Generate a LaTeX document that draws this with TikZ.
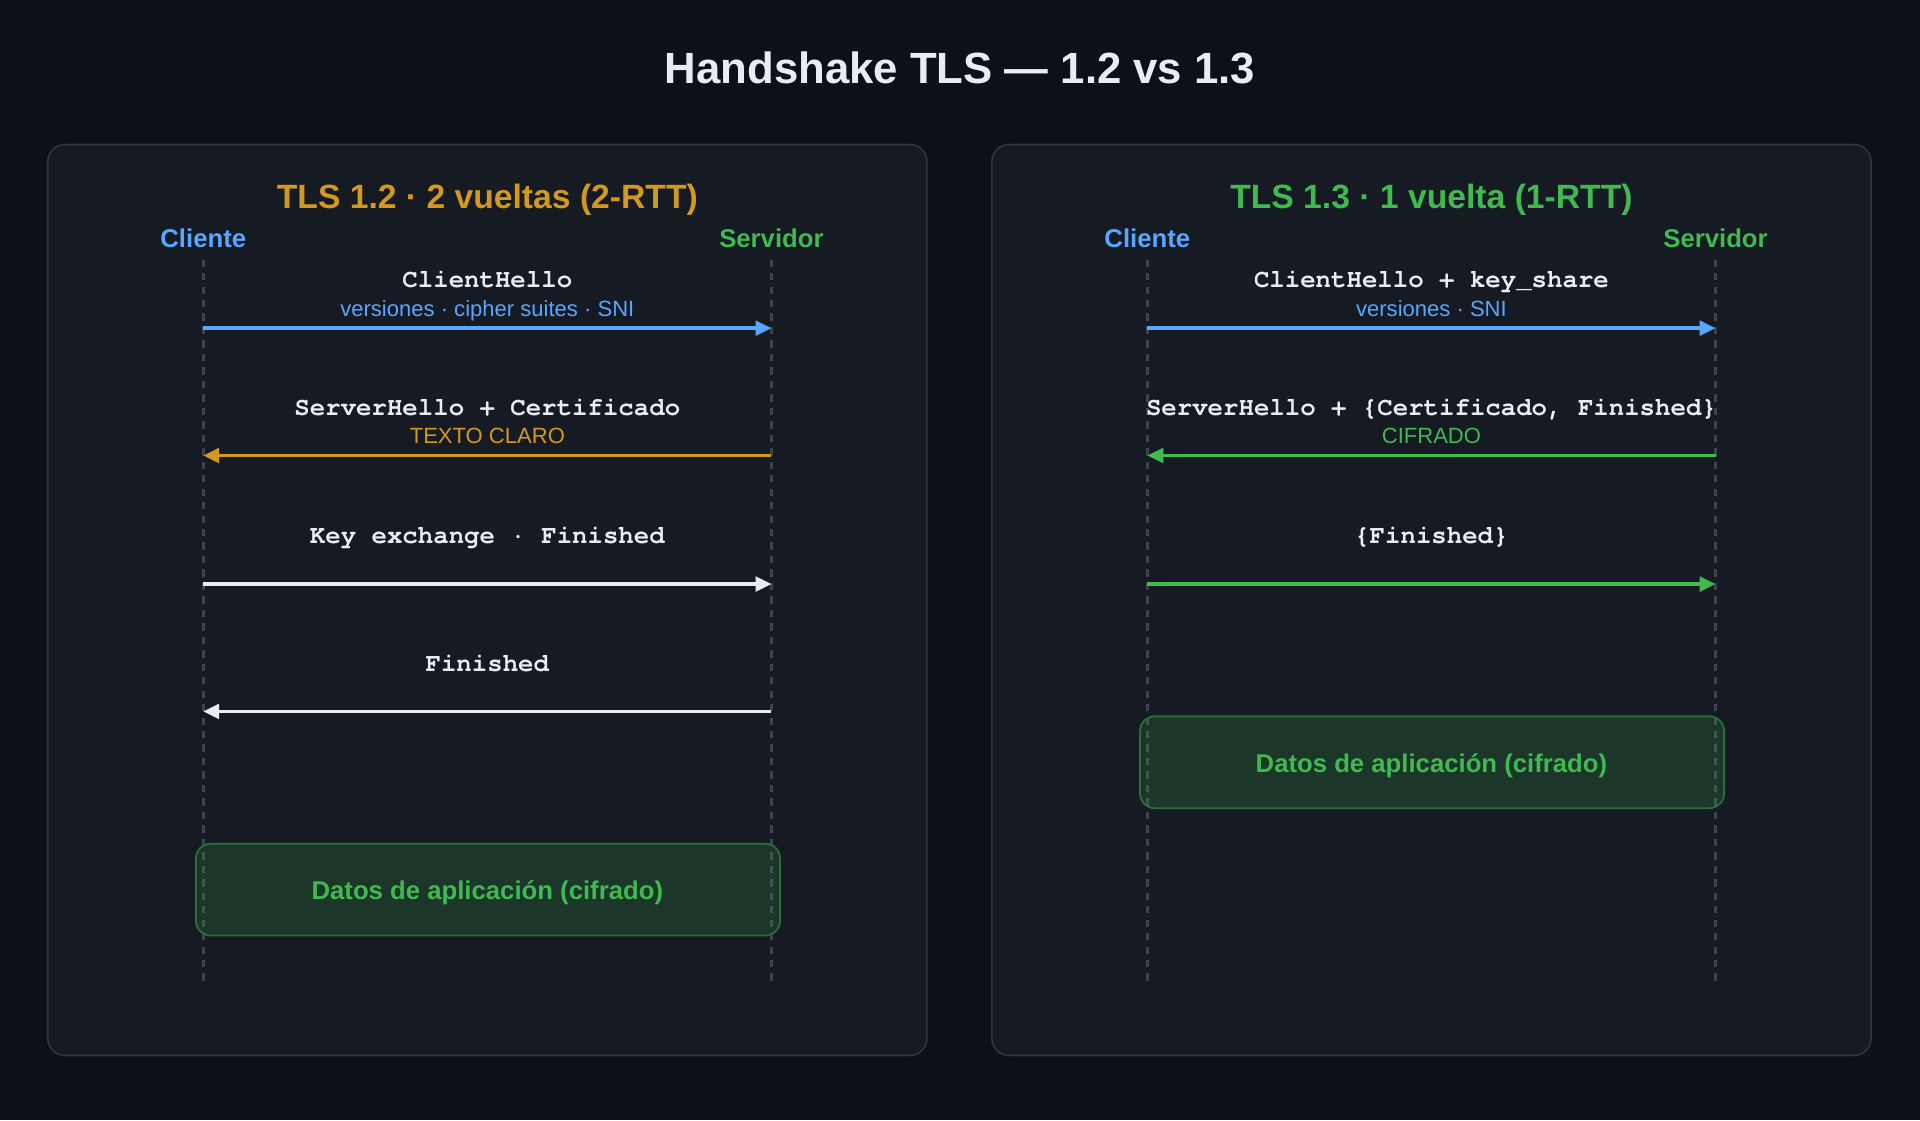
\documentclass[tikz,border=0pt]{standalone}
\usepackage{fontspec}
\setmainfont{Liberation Sans}
\setmonofont{texgyrecursor-regular.otf}[BoldFont=texgyrecursor-bold.otf, Ligatures=NoCommon]
\usetikzlibrary{arrows.meta}
\definecolor{fondo}{HTML}{0C1018}
\definecolor{panelbg}{HTML}{161A22}
\definecolor{borde}{HTML}{30363D}
\definecolor{vidagris}{HTML}{3D434C}
\definecolor{blanco}{HTML}{E6EDF3}
\definecolor{azul}{HTML}{58A6FF}
\definecolor{verde}{HTML}{3FB950}
\definecolor{naranja}{HTML}{D29922}
\definecolor{bordeverde}{HTML}{2B6E37}
\tikzset{
  panel/.style={draw=borde, fill=panelbg, line width=1.3pt, rounded corners=14pt},
  vida/.style={draw=vidagris, line width=2.3pt, dash pattern=on 6pt off 5pt},
  msg/.style={line width=2.8pt, -{Triangle[length=13pt,width=12pt]}},
  etiq/.style={anchor=base, text=blanco, font=\fontsize{21}{24}\ttfamily\bfseries},
  nota/.style={anchor=base, font=\fontsize{18}{20}\selectfont},
  actor/.style={anchor=base, font=\fontsize{21}{24}\selectfont\bfseries},
  subtit/.style={anchor=base, font=\fontsize{27.5}{30}\selectfont\bfseries},
  datos/.style={draw=bordeverde, fill=verde, fill opacity=0.18, line width=1.5pt, rounded corners=12pt}
}
\begin{document}
\begin{tikzpicture}[x=1pt, y=-1pt]
    \fill[fondo] (0,0) rectangle (1568,914.7);
    \useasboundingbox (0,0) rectangle (1568,914.7);
    \node[anchor=base, text=blanco, font=\fontsize{35.7}{40}\selectfont\bfseries] (titulo) at (784,68) {Handshake TLS — 1.2 vs 1.3};
    % TLS 1.2
    \draw[panel] (39,118) rectangle (757,862);
    \node[subtit, text=naranja] (t12) at (398,170) {TLS 1.2 · 2 vueltas (2-RTT)};
    \node[actor, text=azul] (cli12) at (166,202.5) {Cliente};
    \node[actor, text=verde] (ser12) at (630,202.5) {Servidor};
    \coordinate (c12top) at (166,212); \coordinate (c12bot) at (166,805);
    \coordinate (s12top) at (630,212); \coordinate (s12bot) at (630,805);
    \draw[vida] (c12top) -- (c12bot);
    \draw[vida] (s12top) -- (s12bot);
    \coordinate (c12a) at (166,268); \coordinate (s12a) at (630,268);
    \coordinate (c12b) at (166,372); \coordinate (s12b) at (630,372);
    \coordinate (c12c) at (166,477); \coordinate (s12c) at (630,477);
    \coordinate (c12d) at (166,581); \coordinate (s12d) at (630,581);
    \node[etiq] (m12a) at (398,235) {ClientHello};
    \node[nota, text=azul] (n12a) at (398,258.5) {versiones · cipher suites · SNI};
    \draw[msg, azul] (c12a) -- (s12a);
    \node[etiq] (m12b) at (398,339) {ServerHello + Certificado};
    \node[nota, text=naranja] (n12b) at (398,362.5) {TEXTO CLARO};
    \draw[msg, naranja] (s12b) -- (c12b);
    \node[etiq] (m12c) at (398,444) {Key exchange · Finished};
    \draw[msg, blanco] (c12c) -- (s12c);
    \node[etiq] (m12d) at (398,548) {Finished};
    \draw[msg, blanco] (s12d) -- (c12d);
    \draw[datos] (160,689) rectangle (637,764);
    \node[actor, text=verde] (d12) at (398,734.5) {Datos de aplicación (cifrado)};
    % TLS 1.3
    \draw[panel] (810,118) rectangle (1528,862);
    \node[subtit, text=verde] (t13) at (1169,170) {TLS 1.3 · 1 vuelta (1-RTT)};
    \node[actor, text=azul] (cli13) at (937,202.5) {Cliente};
    \node[actor, text=verde] (ser13) at (1401,202.5) {Servidor};
    \coordinate (c13top) at (937,212); \coordinate (c13bot) at (937,805);
    \coordinate (s13top) at (1401,212); \coordinate (s13bot) at (1401,805);
    \draw[vida] (c13top) -- (c13bot);
    \draw[vida] (s13top) -- (s13bot);
    \coordinate (c13a) at (937,268); \coordinate (s13a) at (1401,268);
    \coordinate (c13b) at (937,372); \coordinate (s13b) at (1401,372);
    \coordinate (c13c) at (937,477); \coordinate (s13c) at (1401,477);
    \node[etiq] (m13a) at (1169,235) {ClientHello + key\_share};
    \node[nota, text=azul] (n13a) at (1169,258.5) {versiones · SNI};
    \draw[msg, azul] (c13a) -- (s13a);
    \node[etiq] (m13b) at (1169,339) {ServerHello + \{Certificado, Finished\}};
    \node[nota, text=verde] (n13b) at (1169,362.5) {CIFRADO};
    \draw[msg, verde] (s13b) -- (c13b);
    \node[etiq] (m13c) at (1169,444) {\{Finished\}};
    \draw[msg, verde] (c13c) -- (s13c);
    \draw[datos] (931,585) rectangle (1408,660);
    \node[actor, text=verde] (d13) at (1169,630.5) {Datos de aplicación (cifrado)};
\end{tikzpicture}
\end{document}
